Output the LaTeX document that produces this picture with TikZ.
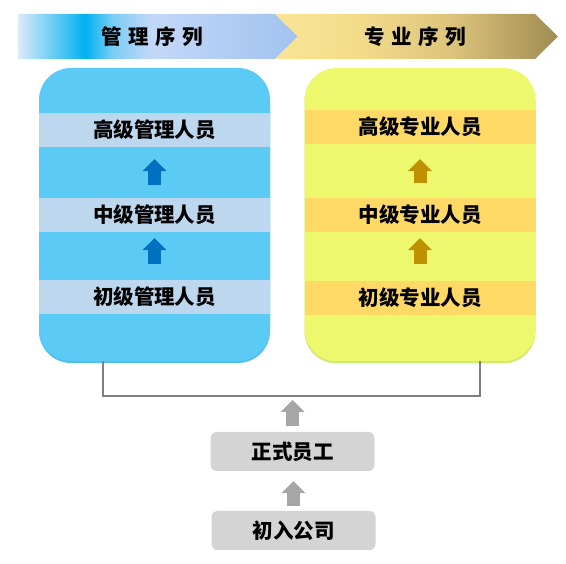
\documentclass[tikz,border=0pt]{standalone}
\usepackage{fontspec}
\newfontfamily\cjk{Noto Sans CJK SC}
\usetikzlibrary{positioning,calc,arrows.meta}

\definecolor{mgmtblue}{HTML}{5BCBF5}
\definecolor{mgmtedge}{HTML}{4FC0EE}
\definecolor{mgmtband}{HTML}{BDD7EE}
\definecolor{mgmtarrow}{HTML}{0070C0}
\definecolor{profyellow}{HTML}{EEF86C}
\definecolor{profedge}{HTML}{D2EA74}
\definecolor{profband}{HTML}{FFD966}
\definecolor{profarrow}{HTML}{BF9000}
\definecolor{stepgray}{HTML}{D4D4D4}
\definecolor{arrowgray}{HTML}{A6A6A6}
\definecolor{bracketgray}{HTML}{808080}
% banner shades
\definecolor{mgA}{HTML}{DCEAF8}
\definecolor{mgB}{HTML}{00B2F0}
\definecolor{mgC}{HTML}{7CCEF6}
\definecolor{mgD}{HTML}{C2D8F8}
\definecolor{mgE}{HTML}{A2C2F0}
\definecolor{pfA}{HTML}{F9E595}
\definecolor{pfB}{HTML}{F2DC8A}
\definecolor{pfC}{HTML}{DCC47C}
\definecolor{pfD}{HTML}{A08C52}

\pgfdeclarehorizontalshading{mgmtshade}{100bp}{color(0bp)=(mgA); color(25bp)=(mgA);
  color(37bp)=(mgB); color(42bp)=(mgC); color(49bp)=(mgD);
  color(75bp)=(mgE); color(100bp)=(mgE)}
\pgfdeclarehorizontalshading{profshade}{100bp}{color(0bp)=(pfA); color(25bp)=(pfA);
  color(40bp)=(pfB); color(56bp)=(pfC);
  color(75bp)=(pfD); color(100bp)=(pfD)}

\tikzset{
	panel/.style={minimum width=231pt, minimum height=293pt, rounded corners=32pt, inner sep=0pt},
	band/.style={minimum width=231pt, minimum height=34pt, inner sep=0pt},
	stepbox/.style={fill=stepgray, rounded corners=6pt, minimum width=164pt, minimum height=39pt, inner sep=0pt},
	uparrow/.style={draw=#1, line width=13pt, -{Triangle[width=24pt,length=12pt,line width=0pt]}},
	bracket/.style={draw=bracketgray, line width=2pt},
}

\begin{document}
\begin{tikzpicture}[x=1pt, y=-1pt, font=\cjk\bfseries\fontsize{20.5}{24}\selectfont]
	\useasboundingbox (0,0) rectangle (566,564);

	% banner
	\shade[shading=mgmtshade] (18,14) -- (275,14) -- (298,36.5) -- (275,59) -- (18,59) -- cycle;
	\shade[shading=profshade] (275,14) -- (535,14) -- (558,36.5) -- (535,59) -- (275,59) -- (298,36.5) -- cycle;
	\node (mgmthead) at (152,37) {管\hspace{6.5pt}理\hspace{6.5pt}序\hspace{6.5pt}列};
	\node (profhead) at (415,37) {专\hspace{6.5pt}业\hspace{6.5pt}序\hspace{6.5pt}列};

	% two ladders
	\node[panel, fill=mgmtedge] at (154.5,216.5) {};
	\node[panel, fill=mgmtblue] (mgmt) at (154.5,214.5) {};
	\node[panel, fill=profedge] at (420,217) {};
	\node[panel, fill=profyellow] (prof) at (420,214.5) {};

	\node[band, fill=mgmtband] (mg3) at (154.5,130) {高级管理人员};
	\node[band, fill=mgmtband] (mg2) at (154.5,215) {中级管理人员};
	\node[band, fill=mgmtband] (mg1) at (154.5,297) {初级管理人员};

	\node[band, fill=profband] (pf3) at (420,127) {高级专业人员};
	\node[band, fill=profband] (pf2) at (420,215) {中级专业人员};
	\node[band, fill=profband] (pf1) at (420,298) {初级专业人员};

	\draw[uparrow=mgmtarrow, shorten <=13pt, shorten >=12pt] (mg2.north) -- (mg3.south);
	\draw[uparrow=mgmtarrow, shorten <=16pt, shorten >=6pt] (mg1.north) -- (mg2.south);
	\draw[uparrow=profarrow, shorten <=15pt, shorten >=15pt] (pf2.north) -- (pf3.south);
	\draw[uparrow=profarrow, shorten <=17pt, shorten >=6pt] (pf1.north) -- (pf2.south);

	% entry steps
	\coordinate (jn) at (291.5,396);
	\draw[bracket] ([xshift=-51.5pt]mgmt.south) |- (jn) -| ([xshift=60pt]prof.south);

	\node[stepbox] (zs) at (292.5,451.5) {正式员工};
	\node[stepbox] (cr) at (293.5,530.5) {初入公司};

	\draw[uparrow=arrowgray, shorten <=6pt, shorten >=4pt] (zs.north) -- (zs.north |- jn);
	\draw[uparrow=arrowgray, shorten <=5pt, shorten >=10pt] (cr.north) -- (cr.north |- zs.south);
\end{tikzpicture}
\end{document}
